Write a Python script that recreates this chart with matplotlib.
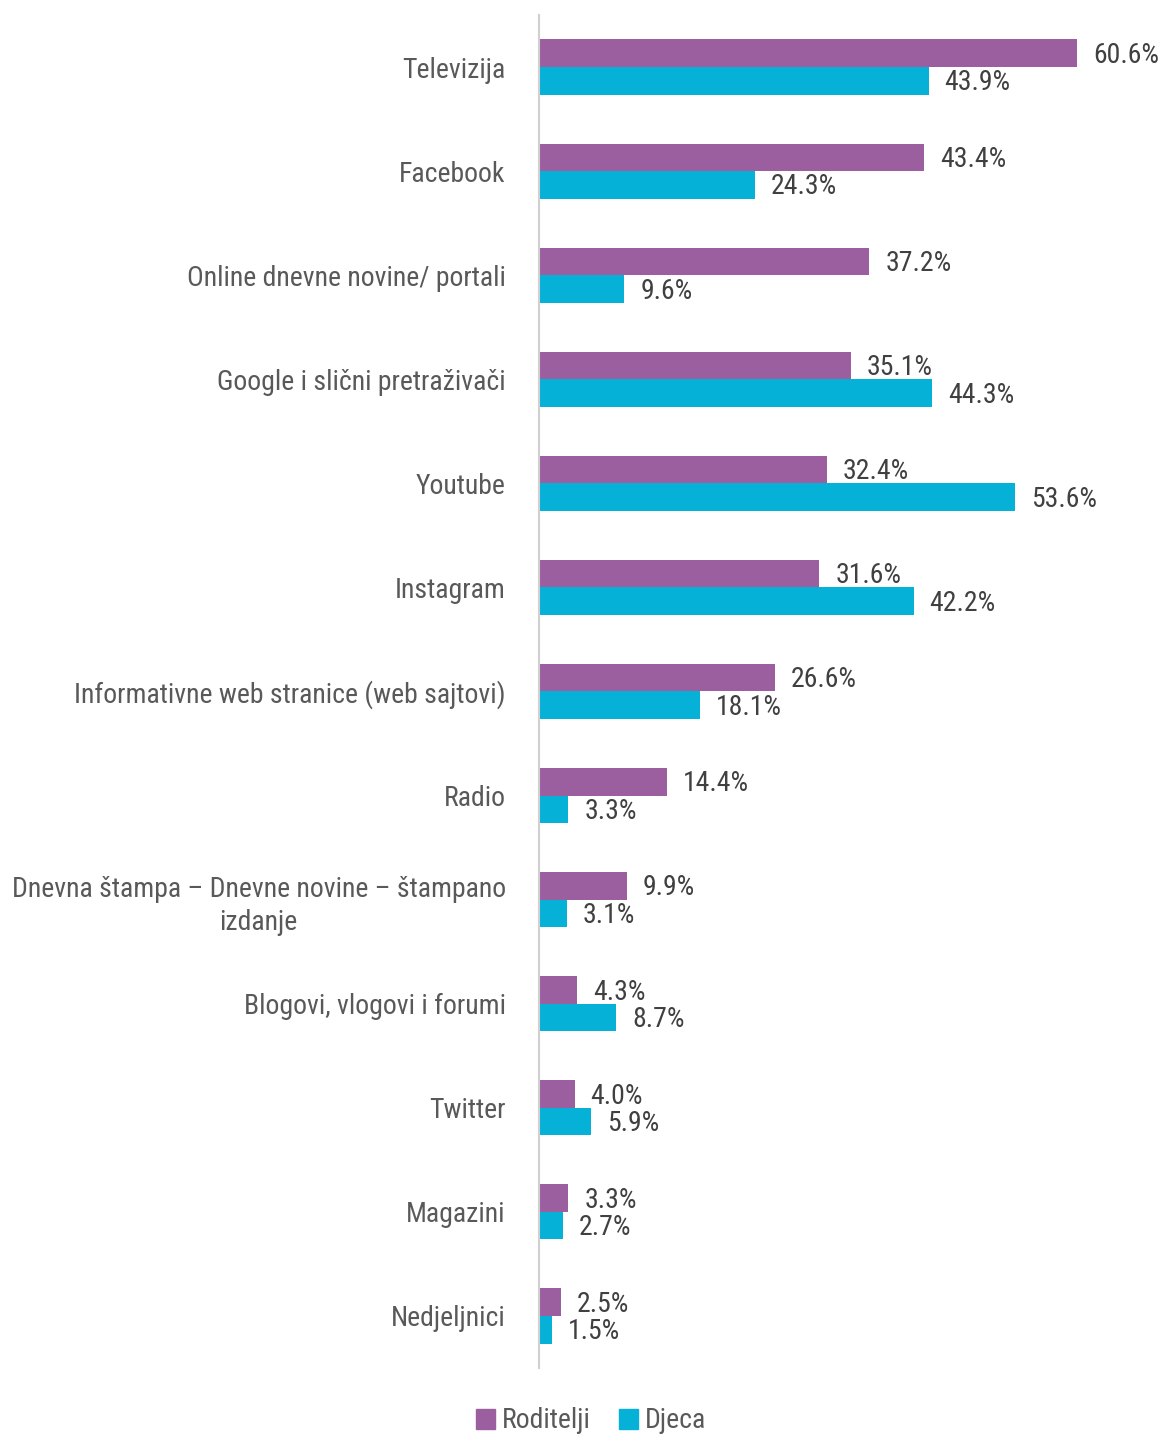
import matplotlib.pyplot as plt
import numpy as np
from matplotlib.patches import Patch
from matplotlib import font_manager

categories = [
    "Televizija",
    "Facebook",
    "Online dnevne novine/ portali",
    "Google i slični pretraživači",
    "Youtube",
    "Instagram",
    "Informativne web stranice (web sajtovi)",
    "Radio",
    "Dnevna štampa – Dnevne novine – štampano\nizdanje",
    "Blogovi, vlogovi i forumi",
    "Twitter",
    "Magazini",
    "Nedjeljnici",
]
roditelji = [60.6, 43.4, 37.2, 35.1, 32.4, 31.6, 26.6, 14.4, 9.9, 4.3, 4.0, 3.3, 2.5]
djeca = [43.9, 24.3, 9.6, 44.3, 53.6, 42.2, 18.1, 3.3, 3.1, 8.7, 5.9, 2.7, 1.5]
series_names = ["Roditelji", "Djeca"]

PURPLE = "#9B5FA0"
CYAN = "#06B1D7"
LABEL_GRAY = "#595959"
VALUE_GRAY = "#404040"

# pick a condensed face if one is installed
names = {f.name for f in font_manager.fontManager.ttflist}
family = "DejaVu Sans"
for cand in ["Roboto Condensed", "Liberation Sans Narrow", "Open Sans Condensed",
             "Noto Sans Condensed", "DejaVu Sans Condensed"]:
    if cand in names:
        family = cand
        break
plt.rcParams["font.family"] = [family, "DejaVu Sans"]
plt.rcParams["font.stretch"] = "condensed"
FS = 20

fig = plt.figure(figsize=(11.63, 14.37), dpi=100)
ax = fig.add_axes([539 / 1163, 1 - 1368 / 1437, 1 - 539 / 1163, (1368 - 15) / 1437])

y = np.arange(len(categories))
h = 0.265
ax.barh(y - h / 2, roditelji, height=h, color=PURPLE, label=series_names[0])
ax.barh(y + h / 2, djeca, height=h, color=CYAN, label=series_names[1])

for yi, v in zip(y, roditelji):
    ax.text(v + 1.8, yi - h / 2 + 0.02, f"{v:.1f}%", va="center", ha="left",
            fontsize=FS, color=VALUE_GRAY)
for yi, v in zip(y, djeca):
    ax.text(v + 1.8, yi + h / 2 + 0.02, f"{v:.1f}%", va="center", ha="left",
            fontsize=FS, color=VALUE_GRAY)

ax.set_xlim(0, 70.3)
ax.set_ylim(len(categories) - 0.5, -0.5)
ax.set_yticks(y)
ax.set_yticklabels(categories, fontsize=FS, color=LABEL_GRAY)
for lbl in ax.get_yticklabels():
    lbl.set_multialignment("center")
    lbl.set_linespacing(1.3)
ax.tick_params(axis="y", length=0, pad=24)
ax.set_xticks([])
for side in ["top", "right", "bottom"]:
    ax.spines[side].set_visible(False)
ax.spines["left"].set_color("#D0D0D0")
ax.spines["left"].set_linewidth(1.5)

handles = [Patch(color=PURPLE, label=series_names[0]), Patch(color=CYAN, label=series_names[1])]
fig.legend(handles=handles, loc="center", bbox_to_anchor=(591 / 1163, 1 - 1421 / 1437),
           ncol=2, frameon=False, fontsize=FS, handlelength=0.7, handleheight=0.7,
           handletextpad=0.25, columnspacing=1.0, labelcolor=LABEL_GRAY)

fig.savefig("out.png", dpi=100)
